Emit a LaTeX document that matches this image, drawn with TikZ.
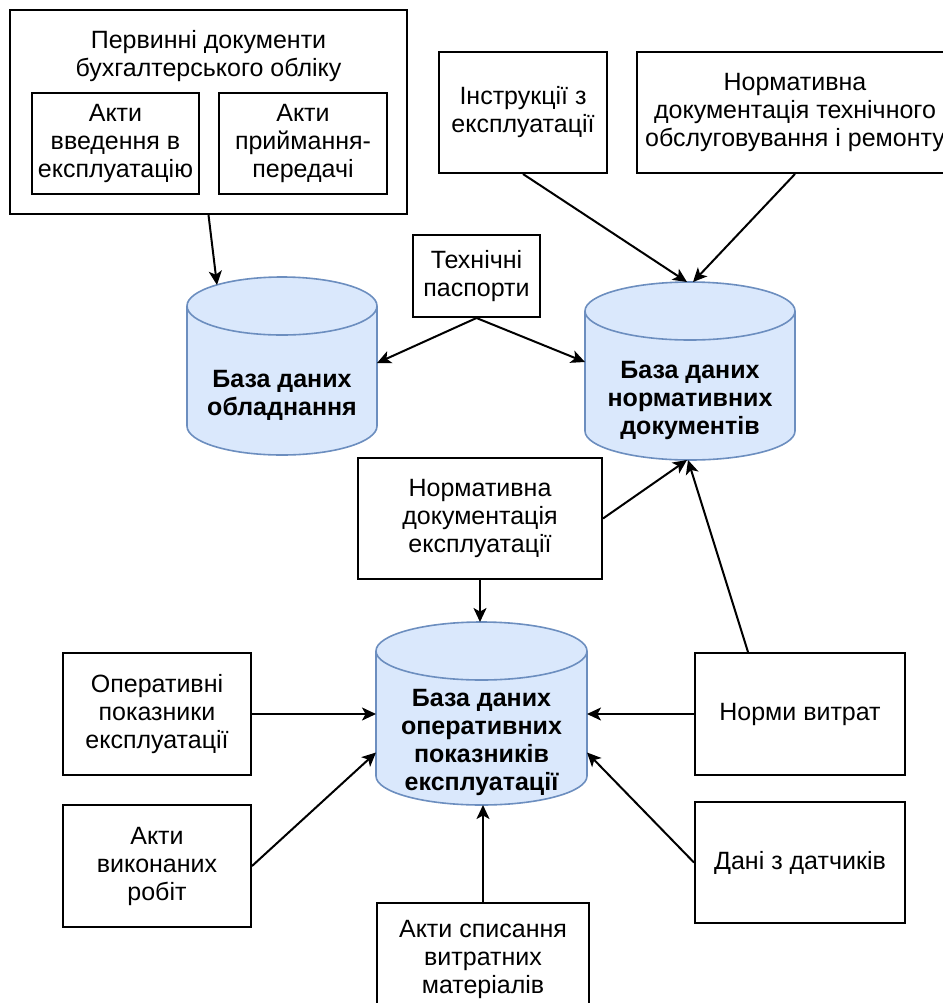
\documentclass[tikz,border=0pt]{standalone}
\usepackage{fontspec}
\setmainfont{Liberation Sans}
\usepackage{tikz}
\usetikzlibrary{calc}
\usetikzlibrary{arrows.meta}

\definecolor{dbfill}{HTML}{DAE8FC}
\definecolor{dbedge}{HTML}{6C8EBF}

\tikzset{
  box/.style={draw, line width=1pt, fill=white, align=center, inner sep=2pt},
  dbnode/.style={inner sep=0pt, outer sep=0pt},
  dbtext/.style={align=center, inner sep=0pt, font=\fontsize{12.5}{14}\selectfont\bfseries},
  conn/.style={line width=1pt, arrows={-Stealth[length=7pt, width=6.5pt, inset=1.8pt]}},
}
% cylinder round a body node: #1 node, #2 x radius
\newcommand{\dbcyl}[2]{%
  \path[fill=dbfill, draw=dbedge, line width=0.8pt] ([yshift=14.5pt]#1.north west) -- ([yshift=14.5pt]#1.south west)
    arc[start angle=180, end angle=360, x radius=#2, y radius=14.5pt] -- ([yshift=14.5pt]#1.north east)
    arc[start angle=0, end angle=180, x radius=#2, y radius=14.5pt] -- cycle;
  \draw[dbedge, line width=0.8pt] ([yshift=14.5pt]#1.north west) arc[start angle=180, end angle=360, x radius=#2, y radius=14.5pt];
}

\begin{document}
\begin{tikzpicture}[x=0.5pt, y=-0.5pt, font=\fontsize{12.5}{14}\selectfont]
  \useasboundingbox (0,0) rectangle (943,1003);
  % primary documents
  \node[box, minimum width=198.5pt, minimum height=102pt] (prim) at (208.5,112) {};
  \node[align=center, inner sep=0pt] (primtitle) at (208.5,56.5) {Первинні документи\\бухгалтерського обліку};
  \node[box, minimum width=83.5pt, minimum height=50.5pt] (actin) at (115.5,143.5) {Акти\\введення в\\експлуатацію};
  \node[box, minimum width=84pt, minimum height=50.5pt] (acttr) at (303,143.5) {Акти\\приймання-\\передачі};
  % top right sources
  \node[box, minimum width=84pt, minimum height=60.5pt] (instr) at (523,112.5) {Інструкції з\\експлуатації};
  \node[box, minimum width=158pt, minimum height=60.5pt] (normto) at (795,112.5) {Нормативна\\документація технічного\\обслуговування і ремонту};
  \node[box, minimum width=63.5pt, minimum height=41pt] (tech) at (476.5,276) {Технічні\\паспорти};
  % databases
  \node[dbnode, minimum width=95pt, minimum height=60pt] (dbequip) at (282,395) {};
  \node[dbnode, minimum width=105pt, minimum height=60pt] (dbnorm) at (690,400) {};
  \node[dbnode, minimum width=105.5pt, minimum height=62.5pt] (dbops) at (481.5,742.5) {};
  \dbcyl{dbequip}{47.5pt}
  \dbcyl{dbnorm}{52.5pt}
  \dbcyl{dbops}{52.75pt}
  \node[dbtext] (dbequiptext) at (dbequip) {База даних\\обладнання};
  \node[dbtext] (dbnormtext) at (dbnorm) {База даних\\нормативних\\документів};
  \node[dbtext] (dbopstext) at (dbops) {База даних\\оперативних\\показників\\експлуатації};
  \coordinate (dbnormtop) at ([yshift=29pt]dbnorm.north);
  \coordinate (dbopstop) at ([yshift=29pt]dbops.north);
  % lower sources
  \node[box, minimum width=122pt, minimum height=60.5pt] (normexpl) at (480,518.5) {Нормативна\\документація\\експлуатації};
  \node[box, minimum width=94pt, minimum height=61pt] (oper) at (157,714) {Оперативні\\показники\\експлуатації};
  \node[box, minimum width=94pt, minimum height=61pt] (actwork) at (157,866) {Акти\\виконаних\\робіт};
  \node[box, minimum width=105pt, minimum height=61pt] (norms) at (800,714) {Норми витрат};
  \node[box, minimum width=105pt, minimum height=60.5pt] (sensors) at (800,862.5) {Дані з датчиків};
  \node[box, minimum width=106pt, minimum height=56pt] (writeoff) at (483,959) {Акти списання\\витратних\\матеріалів};
  % connectors
  \draw[conn] (prim.south) -- ([shift={(-65,-50)}]dbequip.north);
  \draw[conn] (tech.south) -- ([yshift=16pt]dbequip.east);
  \draw[conn] (tech.south) -- ([yshift=19pt]dbnorm.west);
  \draw[conn] (instr.south) -- ([xshift=-1.5pt]dbnormtop);
  \draw[conn] (normto.south) -- ([xshift=1.5pt]dbnormtop);
  \draw[conn] (normexpl.east) -- ([xshift=-1.5pt]dbnorm.south);
  \draw[conn] ([xshift=-26pt]norms.north) -- ([xshift=-1pt]dbnorm.south);
  \draw[conn] (normexpl.south) -- (normexpl.south |- dbopstop);
  \draw[conn] (oper.east) -- (oper.east -| dbops.west);
  \draw[conn] (actwork.east) -- ([yshift=-5pt]dbops.west);
  \draw[conn] (norms.west) -- (norms.west -| dbops.east);
  \draw[conn] (sensors.west) -- ([yshift=-5pt]dbops.east);
  \draw[conn] (writeoff.north) -- (writeoff.north |- dbops.south);
\end{tikzpicture}
\end{document}
